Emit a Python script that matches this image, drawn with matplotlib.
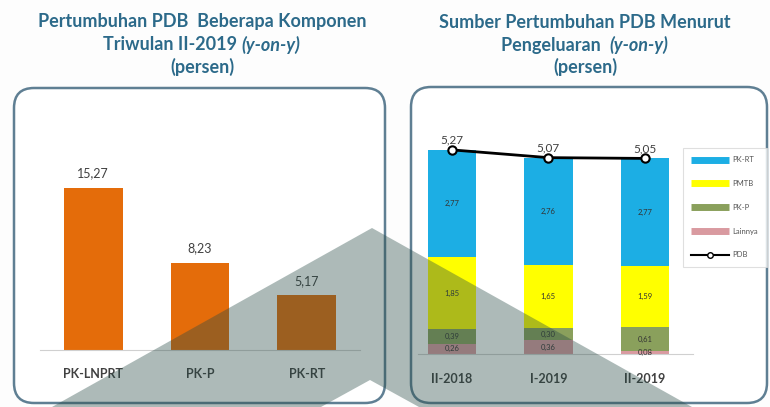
import matplotlib
matplotlib.use("Agg")
import matplotlib.pyplot as plt
from matplotlib.patches import FancyBboxPatch, Polygon
from matplotlib.lines import Line2D
import numpy as np

plt.rcParams['font.family'] = ['Lato', 'DejaVu Sans']

# ---------------- data ----------------
left_categories = ["PK-LNPRT", "PK-P", "PK-RT"]
left_values = [15.27, 8.23, 5.17]

right_periods = ["II-2018", "I-2019", "II-2019"]
lainnya = [0.26, 0.36, 0.08]
pk_p = [0.39, 0.30, 0.61]
pmtb = [1.85, 1.65, 1.59]
pk_rt = [2.77, 2.76, 2.77]
pdb = [5.27, 5.07, 5.05]

W, H = 770, 407
DPI = 100
fig = plt.figure(figsize=(W / DPI, H / DPI), dpi=DPI)
fig.patch.set_facecolor('#fdfdfd')

def px_axes(x0, y0, x1, y1, **kw):
    """axes placed by pixel box (y measured from top)"""
    return fig.add_axes([x0 / W, 1 - y1 / H, (x1 - x0) / W, (y1 - y0) / H], **kw)

# background layer for rounded boxes
bg = px_axes(0, 0, W, H, zorder=0)
bg.set_xlim(0, W); bg.set_ylim(H, 0); bg.axis('off')
border = '#5f7f93'
for (x0, y0, x1, y1) in [(14, 88, 385, 403), (411, 87, 767, 403)]:
    bg.add_patch(FancyBboxPatch((x0, y0), x1 - x0, y1 - y0,
                                boxstyle="round,pad=0,rounding_size=20",
                                fc='white', ec=border, lw=1.8))

title_color = '#2c6a8a'
title_fs = 13

def mixed_line(xc, y, parts):
    """draw a centred line built from (text, style) parts"""
    r = fig.canvas.get_renderer()
    objs = []
    for txt, st in parts:
        t = bg.text(0, y, txt, fontsize=title_fs, fontweight='bold', style=st,
                    color=title_color, ha='left', va='center')
        objs.append(t)
    widths = [o.get_window_extent(renderer=r).width for o in objs]
    total = sum(widths)
    x = xc - total / 2
    for o, w in zip(objs, widths):
        o.set_x(x)
        x += w

mixed_line(202, 22, [("Pertumbuhan PDB  Beberapa Komponen", 'normal')])
mixed_line(202, 45, [("Triwulan II-2019 ", 'normal'), ("(y-on-y)", 'italic')])
mixed_line(202, 67, [("(persen)", 'normal')])
mixed_line(585, 22, [("Sumber Pertumbuhan PDB Menurut", 'normal')])
mixed_line(585, 45, [("Pengeluaran  ", 'normal'), ("(y-on-y)", 'italic')])
mixed_line(585, 67, [("(persen)", 'normal')])

def fmt(v):
    return f"{v:.2f}".replace('.', ',')

# ---------------- left chart ----------------
axL = px_axes(40, 110, 360, 350, zorder=1)
axL.patch.set_alpha(0)
xl = np.arange(len(left_categories))
bars = axL.bar(xl, left_values, width=0.55, color='#e46c0a')
for b, v in zip(bars, left_values):
    axL.annotate(fmt(v), (b.get_x() + b.get_width() / 2, v), xytext=(0, 6),
                 textcoords='offset points', ha='center', va='bottom',
                 fontsize=9, color='#404040')
axL.set_xlim(-0.5, 2.5)
axL.set_ylim(0, 22.6)
axL.set_xticks(xl)
axL.set_xticklabels(left_categories, fontsize=9, fontweight='bold', color='#404040')
axL.tick_params(axis='x', length=0, pad=13)
axL.set_yticks([])
for s in ['top', 'right', 'left']:
    axL.spines[s].set_visible(False)
axL.spines['bottom'].set_color('#d0d0d0')

# ---------------- right chart ----------------
axR = px_axes(418, 110, 693, 354, zorder=1)
axR.patch.set_alpha(0)
xr = np.arange(len(right_periods))
bw = 0.5
series = [("Lainnya", lainnya, '#d99aa0'),
          ("PK-P", pk_p, '#8aa05c'),
          ("PMTB", pmtb, '#ffff00'),
          ("PK-RT", pk_rt, '#1caee4')]
bottom = np.zeros(len(xr))
handles = {}
for name, vals, col in series:
    vals = np.array(vals)
    axR.bar(xr, vals, width=bw, bottom=bottom, color=col)
    for x, b0, v in zip(xr, bottom, vals):
        axR.text(x, b0 + v / 2, fmt(v), ha='center', va='center',
                 fontsize=5.5, color='#333333')
    handles[name] = Line2D([], [], color=col, lw=5, solid_capstyle='butt')
    bottom += vals
axR.plot(xr, pdb, color='black', lw=2, marker='o', markersize=6,
         markerfacecolor='white', markeredgecolor='black', markeredgewidth=1.5,
         zorder=5)
for x, v in zip(xr, pdb):
    axR.annotate(fmt(v), (x, v), xytext=(0, 3), textcoords='offset points',
                 ha='center', va='bottom', fontsize=8.5, color='#404040')
handles["PDB"] = Line2D([], [], color='black', lw=1.5, marker='o', markersize=4,
                        markerfacecolor='white', markeredgecolor='black')
axR.set_xlim(-0.353, 2.5)
axR.set_ylim(0, 6.3)
axR.set_xticks(xr)
axR.set_xticklabels(right_periods, fontsize=9, fontweight='bold', color='#404040')
axR.tick_params(axis='x', length=0, pad=14)
axR.set_yticks([])
for s in ['top', 'right', 'left']:
    axR.spines[s].set_visible(False)
axR.spines['bottom'].set_color('#d0d0d0')

order = ["PK-RT", "PMTB", "PK-P", "Lainnya", "PDB"]
leg = fig.legend([handles[k] for k in order], order, loc='upper left',
                 bbox_to_anchor=(679 / W, 1 - 144 / H), fontsize=5.5,
                 handlelength=5, labelspacing=2.2, borderpad=1.1,
                 handletextpad=0.4, frameon=True, fancybox=False)
leg.get_frame().set_edgecolor('#d8d8d8')
leg.get_frame().set_linewidth(0.8)
for t in leg.get_texts():
    t.set_color('#555555')

# ---------------- watermark overlay ----------------
top = px_axes(0, 0, W, H, zorder=10)
top.set_xlim(0, W); top.set_ylim(H, 0); top.axis('off')
top.patch.set_alpha(0)
wm = Polygon([(52, 407), (372, 228), (692, 407), (419, 407), (370, 380), (321, 407)],
             closed=True, fc=(40 / 255, 75 / 255, 70 / 255), alpha=0.38, ec='none')
top.add_patch(wm)

fig.savefig('out.png', dpi=DPI, facecolor=fig.get_facecolor())
